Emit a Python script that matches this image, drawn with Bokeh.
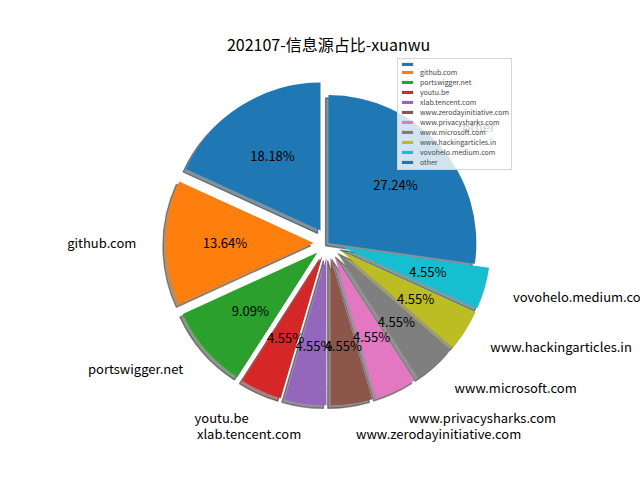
import numpy as np
from bokeh.plotting import figure
from bokeh.models import ColumnDataSource, Range1d, Legend, LegendItem
from bokeh.core.properties import value
from bokeh.embed import file_html
from bokeh.resources import INLINE

# ---------------- data ----------------
title_text = "202107-信息源占比-xuanwu"
labels = ["", "github.com", "portswigger.net", "youtu.be", "xlab.tencent.com",
          "www.zerodayinitiative.com", "www.privacysharks.com", "www.microsoft.com",
          "www.hackingarticles.in", "vovohelo.medium.com", "other"]
shares = [18.18, 13.64, 9.09, 4.55, 4.55, 4.55, 4.55, 4.55, 4.55, 4.55, 27.24]

# ---------------- style ----------------
tab10 = ["#1f77b4", "#ff7f0e", "#2ca02c", "#d62728", "#9467bd",
         "#8c564b", "#e377c2", "#7f7f7f", "#bcbd22", "#17becf"]
colors = [tab10[i % 10] for i in range(len(labels))]
explode = [0.1] * 10 + [0.0]
FONT = "Noto Sans CJK SC"

W, H = 640, 480
PX = 147.84          # pixels per data unit
CX, CY = 328.0, 242.4  # pie centre in pixels (from top-left)
LABEL_DIST = 1.2
PCT_DIST = 0.6

def shade(hexcol, f=0.3):
    r, g, b = (int(hexcol[i:i + 2], 16) for i in (1, 3, 5))
    return "#%02x%02x%02x" % (int(r * f), int(g * f), int(b * f))

frac = np.array(shares, dtype=float) / np.sum(shares)
t1 = 0.25 + np.concatenate([[0.0], np.cumsum(frac)[:-1]])
t2 = t1 + frac
start = 2 * np.pi * t1
end = 2 * np.pi * t2
mid = 0.5 * (start + end)
ex = np.array(explode)
cx = ex * np.cos(mid)
cy = ex * np.sin(mid)

src = ColumnDataSource(dict(x=cx, y=cy, start=start, end=end, color=colors,
                            shadow=[shade(c) for c in colors],
                            sx=cx - 0.02, sy=cy - 0.02, label=labels))

p = figure(width=W, height=H, output_backend="svg", toolbar_location=None,
           x_range=Range1d(-CX / PX, (W - CX) / PX),
           y_range=Range1d(-(H - CY) / PX, CY / PX),
           x_axis_location=None, y_axis_location=None,
           min_border=0, min_border_left=0, min_border_right=0,
           min_border_top=0, min_border_bottom=0)
p.outline_line_color = None
p.grid.visible = False
p.background_fill_color = "white"
p.border_fill_color = "white"

# shadows
p.wedge(x="sx", y="sy", radius=1.0, start_angle="start", end_angle="end",
        fill_color="shadow", fill_alpha=0.5, line_color="shadow", line_alpha=0.5,
        line_width=1.3, source=src)
# wedges
wr = p.wedge(x="x", y="y", radius=1.0, start_angle="start", end_angle="end",
             fill_color="color", line_color=None, source=src)

# outer labels
lx = cx + LABEL_DIST * np.cos(mid)
ly = cy + LABEL_DIST * np.sin(mid)
left_mask = lx > 0
lab_src_l = ColumnDataSource(dict(x=lx[left_mask], y=ly[left_mask],
                                  t=[l for l, m in zip(labels, left_mask) if m]))
lab_src_r = ColumnDataSource(dict(x=lx[~left_mask], y=ly[~left_mask],
                                  t=[l for l, m in zip(labels, left_mask) if not m]))
for s, al in ((lab_src_l, "left"), (lab_src_r, "right")):
    p.text(x="x", y="y", text="t", source=s, text_align=al, text_baseline="middle",
           text_font=value(FONT), text_font_size="13px", text_color="black")

# percentage labels
px_ = cx + PCT_DIST * np.cos(mid)
py_ = cy + PCT_DIST * np.sin(mid)
pct_src = ColumnDataSource(dict(x=px_, y=py_, t=["%.2f%%" % v for v in shares]))
p.text(x="x", y="y", text="t", source=pct_src, text_align="center",
       text_baseline="middle", text_font=value(FONT), text_font_size="13px",
       text_color="black")

# title
p.text(x=[0.0], y=[(CY - 43.5) / PX], text=[title_text], text_align="center",
       text_baseline="middle", text_font=value(FONT), text_font_size="16px",
       text_color="black")

# legend
items = [LegendItem(label=(l if l else " "), renderers=[wr], index=i)
         for i, l in enumerate(labels)]
legend = Legend(items=items, location=(397, H - 170), orientation="vertical",
                label_text_font=FONT, label_text_font_size="7px",
                glyph_width=14, glyph_height=4, label_height=6, label_standoff=6,
                spacing=0, padding=2, margin=0,
                background_fill_color="white", background_fill_alpha=0.8,
                border_line_color="#cccccc", border_line_alpha=0.8, border_line_width=1)
p.add_layout(legend)

open("out.html", "w").write(file_html(p, INLINE))
